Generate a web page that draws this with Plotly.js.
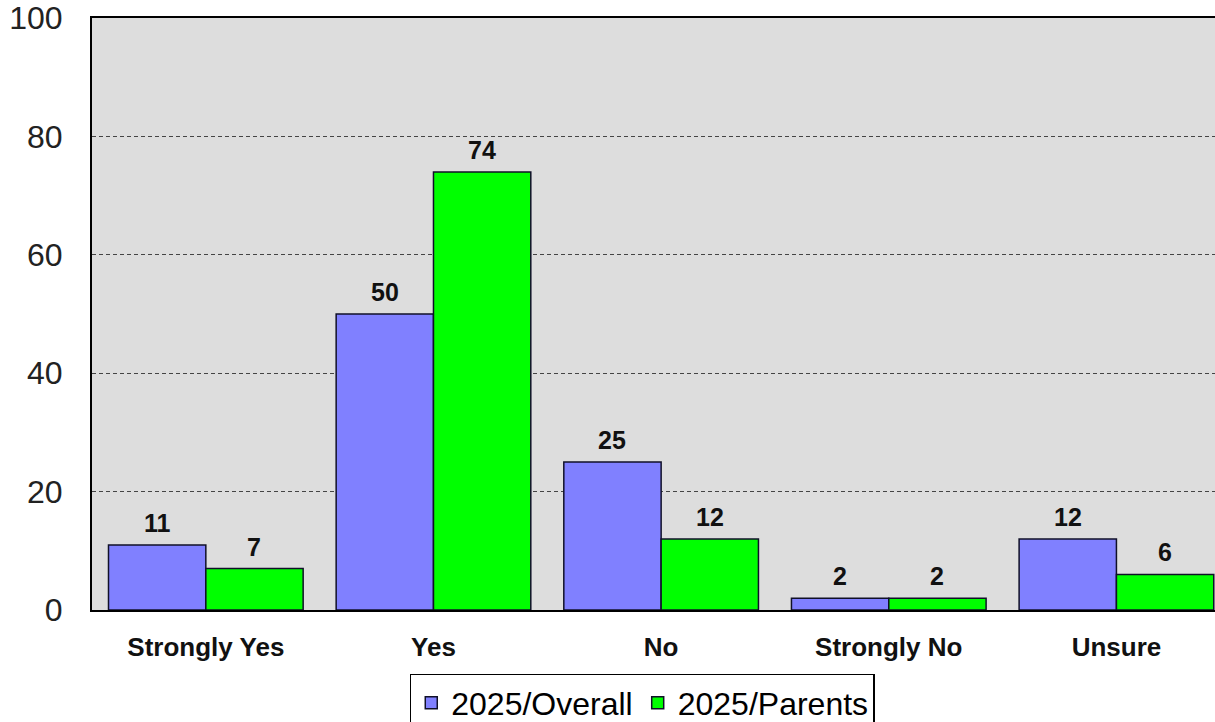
<!DOCTYPE html>
<html>
<head>
<meta charset="utf-8">
<script src="https://cdn.plot.ly/plotly-3.0.1.min.js"></script>
<style>
  html, body { margin: 0; padding: 0; background: #ffffff; }
  #chart { width: 1215px; height: 722px; }
</style>
</head>
<body>
<div id="chart"></div>
<script>
// Survey responses, percent
const categories = ["Strongly Yes", "Yes", "No", "Strongly No", "Unsure"];
const overall = [11, 50, 25, 2, 12];
const parents = [7, 74, 12, 2, 6];
const seriesNames = ["2025/Overall", "2025/Parents"];
const yTicks = [0, 20, 40, 60, 80, 100];

const FONT = "Liberation Sans, Arial, sans-serif";
const BAR_GAP = 0.145;
const xs = categories.map((_, i) => i);

const traces = [
  {
    type: "bar", name: seriesNames[0], x: xs, y: overall,
    marker: { color: "#8080ff", line: { color: "#101028", width: 1.5 } },
    hoverinfo: "y"
  },
  {
    type: "bar", name: seriesNames[1], x: xs, y: parents,
    marker: { color: "#00ff00", line: { color: "#101028", width: 1.5 } },
    hoverinfo: "y"
  }
];

// Value labels above each bar, centred on the bar within its group
const half = (1 - BAR_GAP) / 4;
const annotations = [];
[overall, parents].forEach((vals, s) => {
  vals.forEach((v, i) => {
    annotations.push({
      x: i + (s === 0 ? -half : half), y: v, xref: "x", yref: "y",
      text: String(v), showarrow: false, yanchor: "bottom", yshift: 6,
      font: { family: FONT, size: 25, color: "#111111", weight: "bold" }
    });
  });
});

const layout = {
  width: 1215, height: 722,
  margin: { l: 92, r: 0, t: 18, b: 112, autoexpand: false },
  paper_bgcolor: "#ffffff",
  plot_bgcolor: "#dddddd",
  barmode: "group",
  bargap: BAR_GAP,
  bargroupgap: 0,
  showlegend: true,
  legend: {
    orientation: "h", x: 0.49, xanchor: "center", y: -0.108, yanchor: "top",
    font: { family: FONT, size: 32, color: "#000000" },
    bgcolor: "#ffffff", bordercolor: "#000000", borderwidth: 1.5,
    itemwidth: 30
  },
  xaxis: {
    type: "linear",
    range: [-0.5, 4.433],
    tickmode: "array", tickvals: xs, ticktext: categories,
    tickfont: { family: FONT, size: 26, color: "#111111", weight: "bold" },
    ticks: "", ticklabelstandoff: 13,
    showgrid: false, zeroline: false,
    showline: true, linecolor: "#000000", linewidth: 2, mirror: true,
    fixedrange: true
  },
  yaxis: {
    range: [0, 100],
    tickmode: "array", tickvals: yTicks,
    tickfont: { family: FONT, size: 32, color: "#222222" },
    ticks: "", ticklabelstandoff: 21,
    showgrid: true, gridcolor: "#444444", gridwidth: 1, griddash: "4px,3px",
    zeroline: false,
    showline: true, linecolor: "#000000", linewidth: 2,
    fixedrange: true
  },
  annotations: annotations
};

Plotly.newPlot("chart", traces, layout, { displayModeBar: false, staticPlot: true });
</script>
</body>
</html>
